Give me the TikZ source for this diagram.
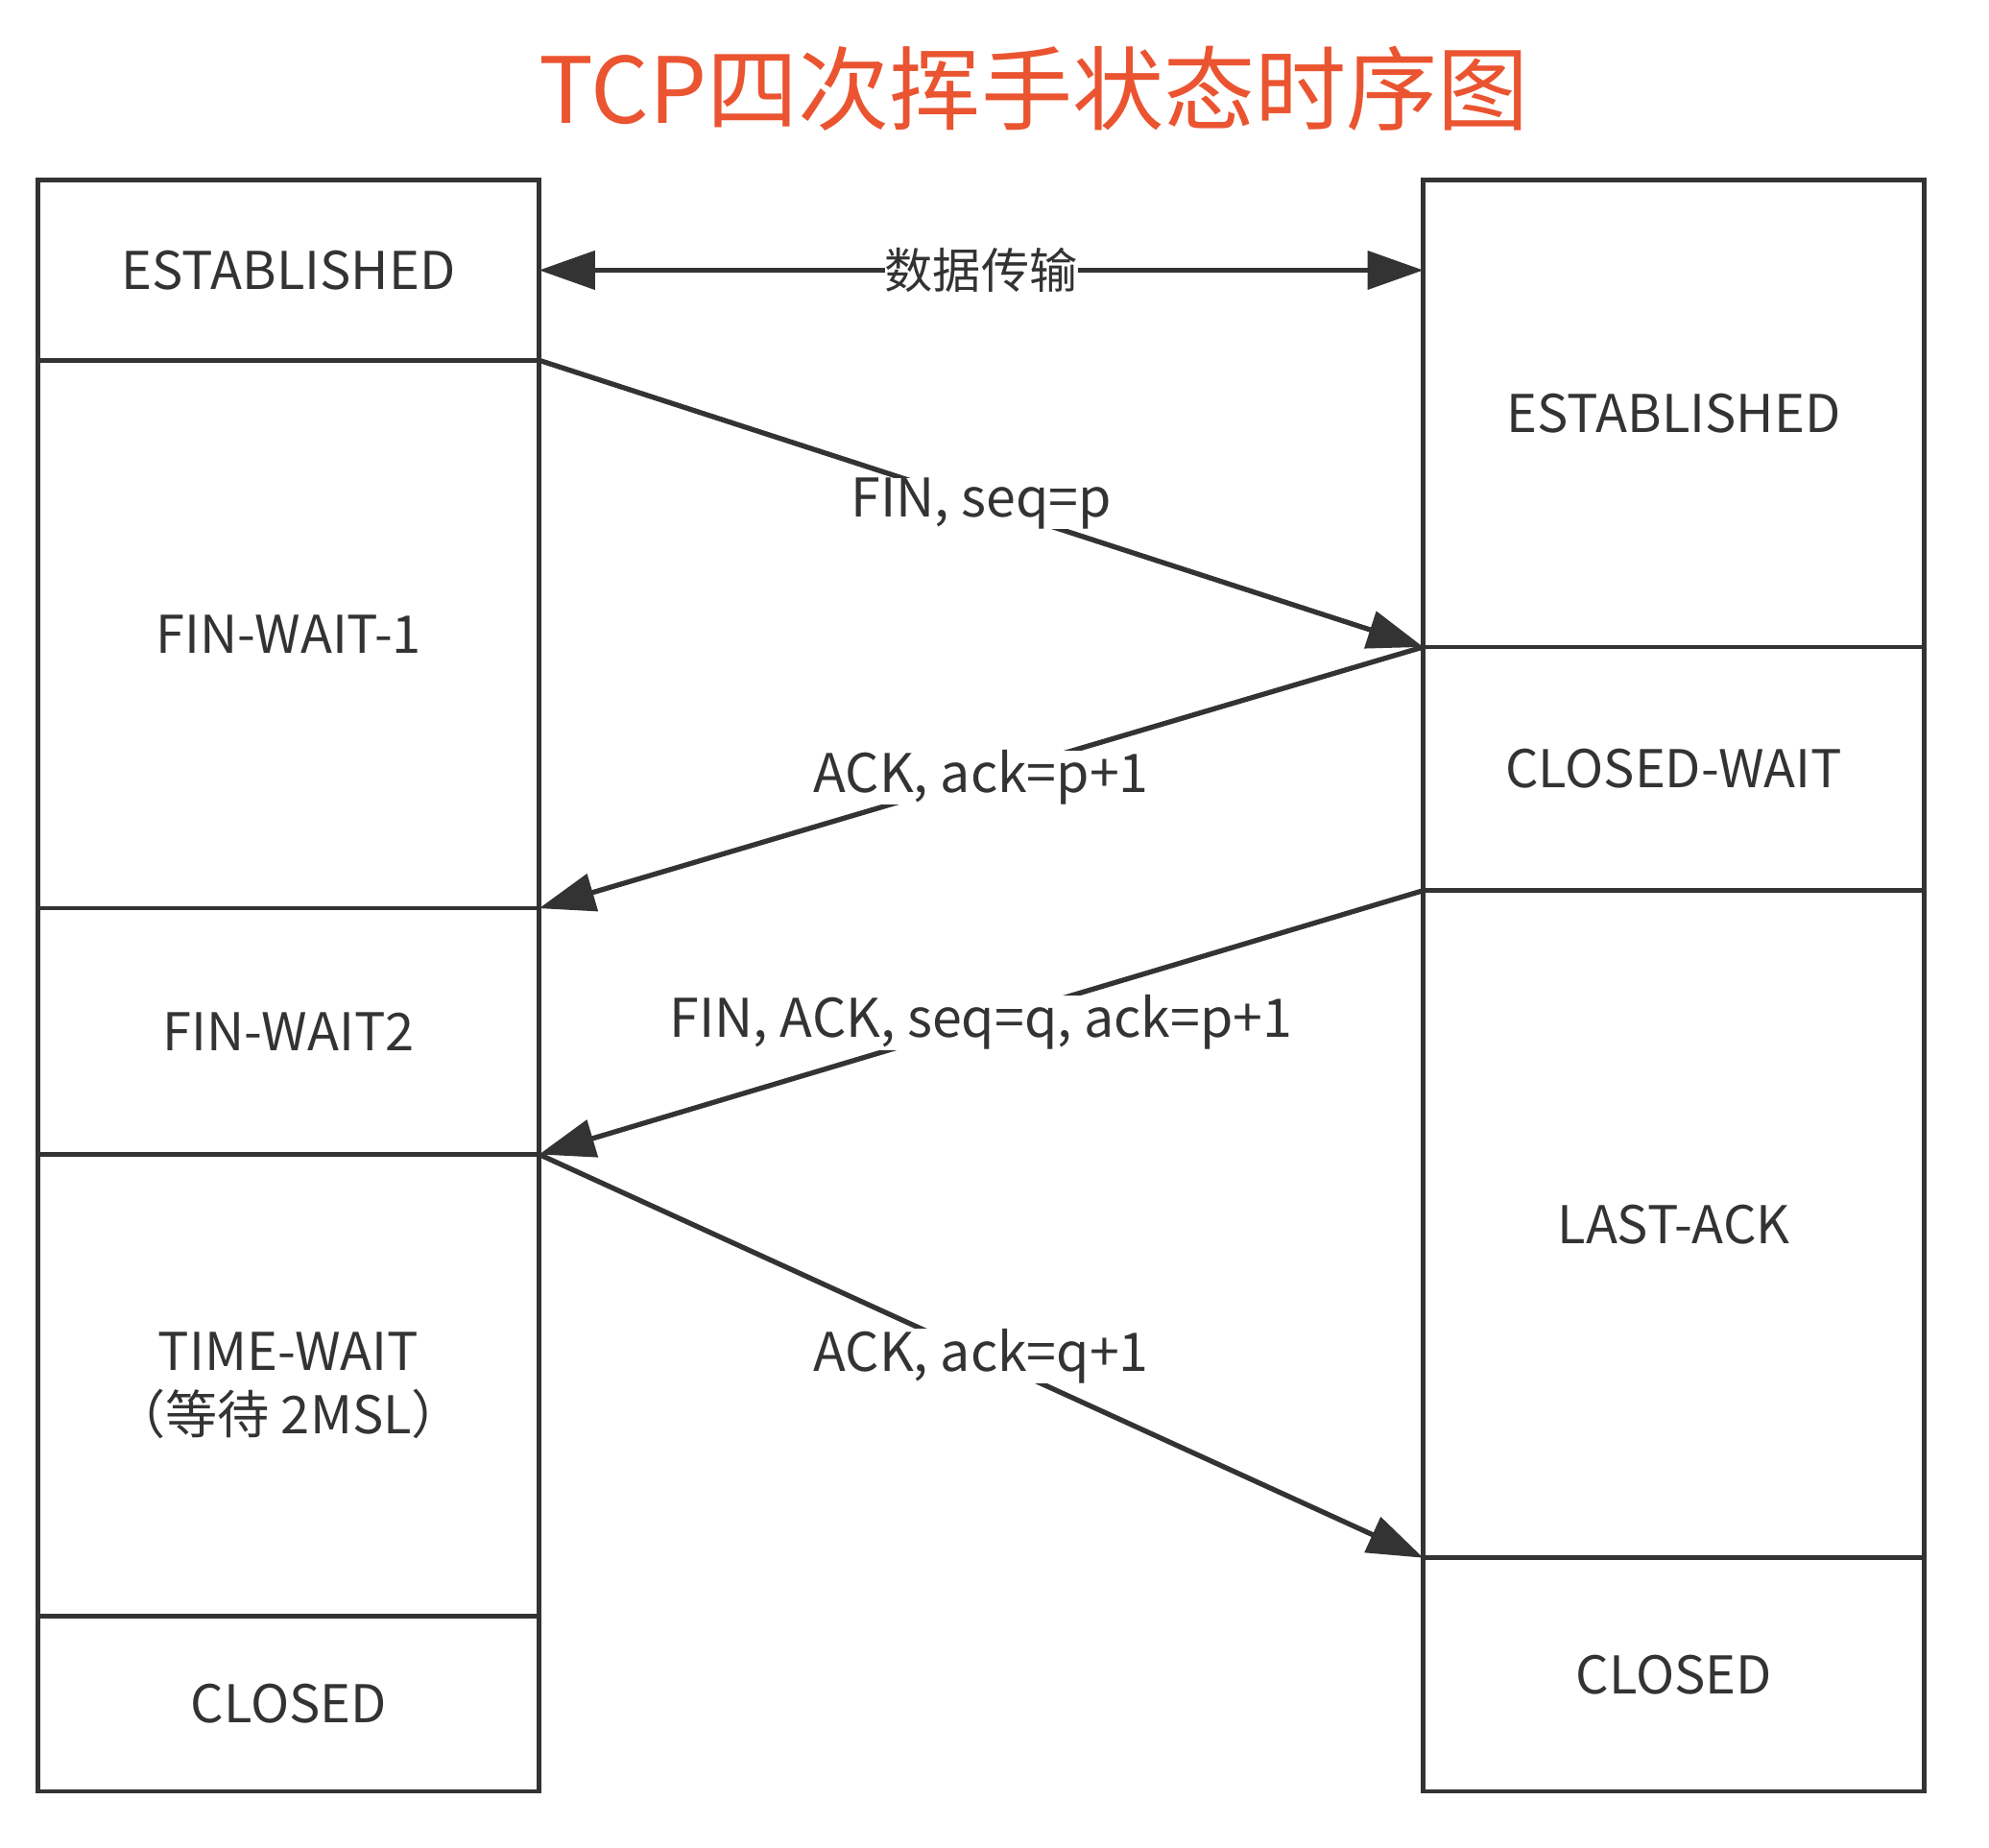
\documentclass[tikz,border=0pt]{standalone}
\usepackage{fontspec}
\setmainfont{Noto Sans CJK SC}
\usetikzlibrary{arrows.meta}
\definecolor{ink}{HTML}{333333}
\definecolor{titlered}{HTML}{EA5430}
\begin{document}
\begin{tikzpicture}[x=1pt,y=-1pt,
  state/.style={draw=ink, line width=3.5pt, anchor=north west, inner sep=0pt, outer sep=0pt,
    minimum width=395pt, text=ink, font=\fontsize{41}{50}\selectfont, align=center},
  msg/.style={draw=ink, line width=4pt, -{Triangle[length=44pt,width=30pt]}},
  both/.style={draw=ink, line width=4pt, {Triangle[length=44pt,width=30pt]}-{Triangle[length=44pt,width=30pt]}},
  lbl/.style={fill=white, inner sep=0pt, text=ink, font=\fontsize{42}{48}\selectfont}]
\useasboundingbox (0,0) rectangle (1568,1456);
\node[text=titlered, font=\fontsize{72}{80}\selectfont] (title) at (815,70) {TCP四次挥手状态时序图};
% left column
\node[state, minimum height=142pt] (l1) at (30,142) {ESTABLISHED};
\node[state, minimum height=432pt] (l2) at (30,284) {FIN-WAIT-1};
\node[state, minimum height=194pt] (l3) at (30,716) {FIN-WAIT2};
\node[state, minimum height=364pt] (l4) at (30,910) {TIME-WAIT\\（等待 2MSL）};
\node[state, minimum height=138pt] (l5) at (30,1274) {CLOSED};
% right column
\node[state, minimum height=368pt] (r1) at (1122,142) {ESTABLISHED};
\node[state, minimum height=192pt] (r2) at (1122,510) {CLOSED-WAIT};
\node[state, minimum height=526pt] (r3) at (1122,702) {LAST-ACK};
\node[state, minimum height=184pt] (r4) at (1122,1228) {CLOSED};
% messages
\draw[both] (l1.east) -- node[lbl, font=\fontsize{38}{44}\selectfont] {数据传输} (r1.west |- l1.east);
\draw[msg] (l2.north east) -- node[lbl] {FIN, seq=p} (r2.north west);
\draw[msg] (r2.north west) -- node[lbl] {ACK, ack=p+1} (l3.north east);
\draw[msg] (r3.north west) -- node[lbl] {FIN, ACK, seq=q, ack=p+1} (l4.north east);
\draw[msg] (l4.north east) -- node[lbl] {ACK, ack=q+1} (r4.north west);
\end{tikzpicture}
\end{document}
